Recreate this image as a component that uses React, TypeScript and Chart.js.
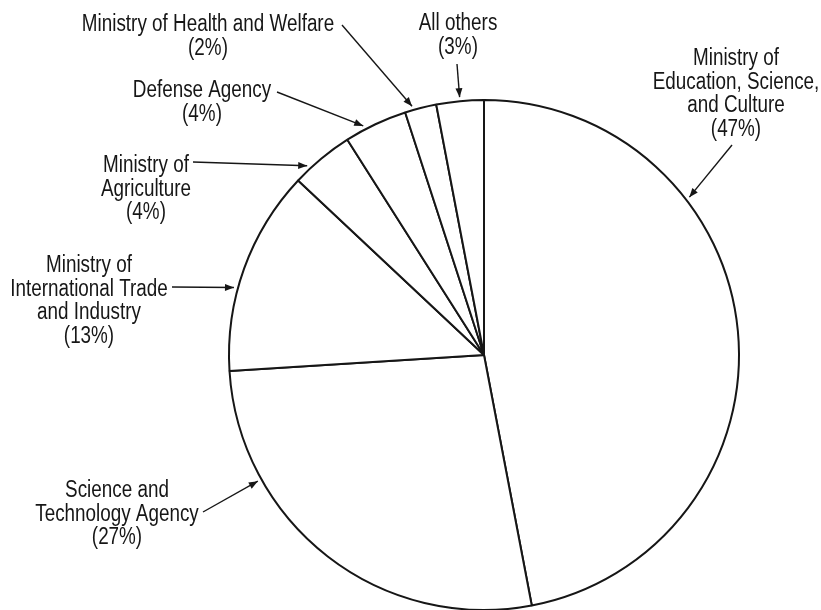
import React, { useEffect, useRef } from "react";
import { Chart, registerables } from "chart.js";

Chart.register(...registerables);

// ---- data ----
const categories = [
  "Ministry of Education, Science, and Culture",
  "Science and Technology Agency",
  "Ministry of International Trade and Industry",
  "Ministry of Agriculture",
  "Defense Agency",
  "Ministry of Health and Welfare",
  "All others",
];
const shares = [47, 27, 13, 4, 4, 2, 3];
const labelNameLines = [
  ["Ministry of", "Education, Science,", "and Culture"],
  ["Science and", "Technology Agency"],
  ["Ministry of", "International Trade", "and Industry"],
  ["Ministry of", "Agriculture"],
  ["Defense Agency"],
  ["Ministry of Health and Welfare"],
  ["All others"],
];

// ---- annotation layout (text anchor: centre x, first baseline y) ----
const labelAnchors = [
  [736, 65],
  [117, 497],
  [89, 272],
  [146, 172],
  [202, 97],
  [208, 31],
  [458, 30],
];
const arrowTails = [
  [732, 145],
  [203, 512],
  [172, 287],
  [193, 162],
  [277, 92],
  [342, 25],
  [457, 64],
];
// where along each slice (0..1) the arrow points
const arrowTipFractions = [0.31, 0.737, 0.4, 0.26, 0.32, 0.26, 0.5];

const FONT = '23px "Liberation Sans", Arial, sans-serif';
const CONDENSE = 0.82;
const INK = "#161616";
const LINE_HEIGHT = 23.5;

const annotationPlugin = {
  id: "pieAnnotations",
  afterDraw(chart: any) {
    const ctx = chart.ctx as CanvasRenderingContext2D;
    const meta = chart.getDatasetMeta(0);
    ctx.save();
    ctx.font = FONT;
    ctx.fillStyle = INK;
    ctx.strokeStyle = INK;
    ctx.textAlign = "center";
    ctx.textBaseline = "alphabetic";
    meta.data.forEach((arc: any, i: number) => {
      const p = arc.getProps(["x", "y", "startAngle", "endAngle", "outerRadius"], true);
      const a = p.startAngle + (p.endAngle - p.startAngle) * arrowTipFractions[i];
      const r = p.outerRadius + 4;
      const tipX = p.x + Math.cos(a) * r;
      const tipY = p.y + Math.sin(a) * r;
      const [sx, sy] = arrowTails[i];
      // shaft
      ctx.lineWidth = 1.4;
      ctx.beginPath();
      ctx.moveTo(sx, sy);
      ctx.lineTo(tipX, tipY);
      ctx.stroke();
      // head
      const ang = Math.atan2(tipY - sy, tipX - sx);
      const len = 9;
      const half = 3.5;
      const bx = tipX - Math.cos(ang) * len;
      const by = tipY - Math.sin(ang) * len;
      ctx.beginPath();
      ctx.moveTo(tipX, tipY);
      ctx.lineTo(bx + Math.sin(ang) * half, by - Math.cos(ang) * half);
      ctx.lineTo(bx - Math.sin(ang) * half, by + Math.cos(ang) * half);
      ctx.closePath();
      ctx.fill();
      // text (horizontally condensed)
      const lines = [...labelNameLines[i], `(${shares[i]}%)`];
      const [cx, cy] = labelAnchors[i];
      lines.forEach((t, k) => {
        ctx.save();
        ctx.translate(cx, cy + k * LINE_HEIGHT);
        ctx.scale(CONDENSE, 1);
        ctx.fillText(t, 0, 0);
        ctx.restore();
      });
    });
    ctx.restore();
  },
};

export default function App() {
  const ref = useRef<HTMLCanvasElement | null>(null);
  useEffect(() => {
    if (!ref.current) return;
    const chart = new Chart(ref.current, {
      type: "pie",
      data: {
        labels: categories,
        datasets: [
          {
            data: shares,
            backgroundColor: "#ffffff",
            borderColor: INK,
            borderWidth: 2,
          },
        ],
      },
      options: {
        responsive: false,
        animation: false,
        devicePixelRatio: 1,
        layout: { padding: { top: 99, bottom: 9, left: 228, right: 81 } },
        plugins: {
          legend: { display: false },
          tooltip: { enabled: false },
        },
      },
      plugins: [annotationPlugin],
    });
    return () => chart.destroy();
  }, []);
  return (
    <div
      style={{
        position: "fixed",
        left: 0,
        top: 0,
        width: 821,
        height: 610,
        overflow: "hidden",
        background: "#ffffff",
      }}
    >
      <canvas ref={ref} width={821} height={620} style={{ display: "block" }} />
    </div>
  );
}
